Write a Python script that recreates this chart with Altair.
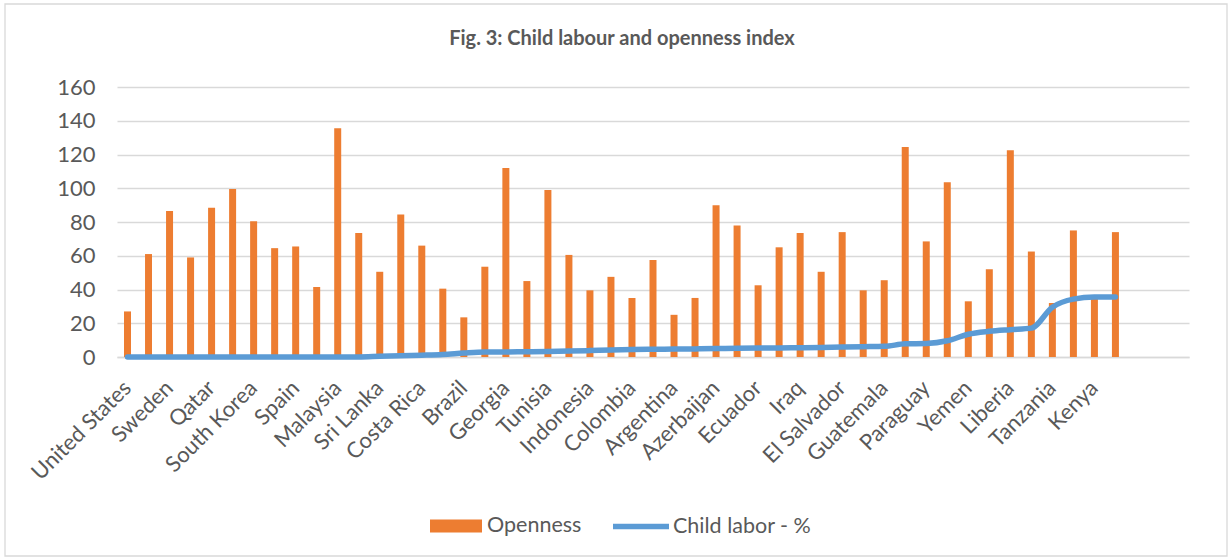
import json

import altair as alt
import pandas as pd

# Country names printed under the axis (every second slot carries one)
countries = [
    "United States", "Sweden", "Qatar", "South Korea", "Spain", "Malaysia",
    "Sri Lanka", "Costa Rica", "Brazil", "Georgia", "Tunisia", "Indonesia",
    "Colombia", "Argentina", "Azerbaijan", "Ecuador", "Iraq", "El Salvador",
    "Guatemala", "Paraguay", "Yemen", "Liberia", "Tanzania", "Kenya",
]

# Openness index per country slot
openness = [
    27, 61, 86.5, 59, 88.5, 99.5, 80.5, 64.5, 65.5, 41.5, 135.5, 73.5,
    50.5, 84.5, 66, 40.5, 23.5, 53.5, 112, 45, 99, 60.5, 39.5, 47.5,
    35, 57.5, 25, 35, 90, 78, 42.5, 65, 73.5, 50.5, 74, 39.5,
    45.5, 124.5, 68.5, 103.5, 33, 52, 122.5, 62.5, 32, 75, 36, 74,
]

# Child labour, percent of children
child_labor = [
    0, 0, 0, 0, 0, 0, 0, 0, 0, 0, 0, 0,
    0.4, 0.8, 1.1, 1.5, 2.3, 2.9, 3.0, 3.1, 3.3, 3.5, 3.8, 4.2,
    4.4, 4.6, 4.7, 4.8, 5.0, 5.2, 5.3, 5.4, 5.5, 5.7, 5.9, 6.1,
    6.3, 7.8, 8.0, 9.6, 13.5, 15.2, 16.2, 17.1, 29.5, 34.3, 35.5, 35.5,
]

y_ticks = [0, 20, 40, 60, 80, 100, 120, 140, 160]

N_SLOTS = 51  # the category axis keeps three empty slots at the end
tick_text = [""] * N_SLOTS
for i, name in enumerate(countries):
    tick_text[2 * i] = name

TEXT = "#595959"
GRID = "#D9D9D9"
FONT = "Lato"
LABEL_SIZE = 22

df = pd.DataFrame({
    "slot": list(range(len(openness))),
    "Openness": openness,
    "Child": child_labor,
})

x_enc = alt.X(
    "slot:O",
    scale=alt.Scale(domain=list(range(N_SLOTS)), paddingInner=0, paddingOuter=0),
    axis=alt.Axis(
        title=None,
        labelExpr=f"{json.dumps(tick_text)}[datum.value]",
        labelAngle=-45,
        labelAlign="right",
        labelBaseline="middle",
        labelPadding=27,
        labelFontSize=LABEL_SIZE,
        labelColor=TEXT,
        labelFont=FONT,
        labelOverlap=False,
        ticks=False,
        grid=False,
        domainColor=GRID,
        domainWidth=1.3,
    ),
)

y_axis = alt.Axis(
    title=None,
    values=y_ticks,
    grid=True,
    gridColor=GRID,
    gridWidth=1.3,
    domain=False,
    ticks=False,
    labelPadding=22,
    labelFontSize=LABEL_SIZE,
    labelColor=TEXT,
    labelFont=FONT,
    labelOverlap=False,
    labelBound=False,
)
y_scale = alt.Scale(domain=[0, 160], nice=False)

bars = (
    alt.Chart(df)
    .transform_calculate(series="'Openness'")
    .mark_bar(size=7)
    .encode(
        x=x_enc,
        y=alt.Y("Openness:Q", scale=y_scale, axis=y_axis),
        fill=alt.Fill(
            "series:N",
            scale=alt.Scale(domain=["Openness"], range=["#ED7D31"]),
            legend=alt.Legend(
                title=None,
                orient="none",
                legendX=313,
                legendY=413,
                direction="horizontal",
                symbolType="M-1,-0.25H1V0.25H-1Z",
                symbolSize=2704,
                symbolStrokeWidth=0,
                labelOffset=5,
                labelFontSize=21.5,
                labelColor=TEXT,
                labelFont=FONT,
                padding=0,
            ),
        ),
    )
)

line = (
    alt.Chart(df)
    .transform_calculate(series="'Child labor - %'")
    .mark_line(strokeWidth=5.5, interpolate="monotone", strokeCap="round")
    .encode(
        x=x_enc,
        y=alt.Y("Child:Q", scale=y_scale, axis=y_axis),
        stroke=alt.Stroke(
            "series:N",
            scale=alt.Scale(domain=["Child labor - %"], range=["#5B9BD5"]),
            legend=alt.Legend(
                title=None,
                orient="none",
                legendX=493,
                legendY=408.5,
                direction="horizontal",
                symbolType="stroke",
                symbolSize=3136,
                symbolStrokeWidth=5.5,
                labelOffset=1,
                labelFontSize=21.5,
                labelColor=TEXT,
                labelFont=FONT,
                padding=0,
            ),
        ),
    )
)

# light frame around the whole figure
frame = (
    alt.Chart(pd.DataFrame({"k": [0]}))
    .mark_rect(filled=False, stroke=GRID, strokeWidth=1.3)
    .encode(
        x=alt.value(-112),
        x2=alt.value(1110),
        y=alt.value(-83),
        y2=alt.value(469),
    )
)

chart = (
    alt.layer(bars, line, frame)
    .resolve_scale(fill="independent", stroke="independent")
    .properties(
        width=1072,
        height=270,
        padding={"left": 117, "top": 87, "right": 40, "bottom": 203},
        autosize=alt.AutoSizeParams(type="none"),
        title=alt.TitleParams(
            "Fig. 3: Child labour and openness index",
            fontSize=20,
            fontWeight="bold",
            color=TEXT,
            font=FONT,
            anchor="middle",
            frame="group",
            baseline="alphabetic",
            dx=-31,
            offset=-61.5,
        ),
    )
    .configure(font=FONT)
    .configure_view(stroke=None)
)

chart.save("out.html", embed_options={"renderer": "svg", "actions": False})
